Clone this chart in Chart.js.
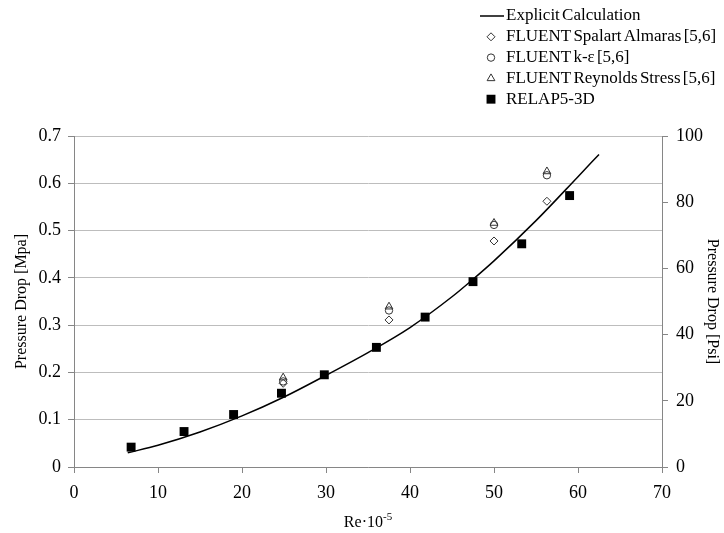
<!DOCTYPE html>
<html>
<head>
<meta charset="utf-8">
<script src="https://cdn.jsdelivr.net/npm/chart.js@4.4.1/dist/chart.umd.min.js"></script>
<style>
    html, body { margin: 0; padding: 0; background: #fff; }
    #dropChart { display: block; }
</style>
</head>
<body>
<canvas id="dropChart" width="724" height="533"></canvas>
<script>
// Explicit calculation curve
var explicitRe = [6.4, 10, 15, 20, 25, 30, 35, 40, 45, 47.5, 50, 55, 60, 62.5];
var explicitDrop = [0.030, 0.046, 0.074, 0.108, 0.148, 0.194, 0.242, 0.295, 0.360, 0.397, 0.436, 0.521, 0.614, 0.661];

// FLUENT results
var fluentRe = [24.9, 37.5, 50, 56.3];
var spalartDrop = [0.177, 0.311, 0.478, 0.562];
var kepsDrop = [0.181, 0.331, 0.512, 0.617];
var reynoldsStressDrop = [0.189, 0.339, 0.516, 0.625];

// RELAP5-3D
var relapRe = [6.8, 13.1, 19.0, 24.7, 29.8, 36.0, 41.8, 47.5, 53.3, 59.0];
var relapDrop = [0.042, 0.075, 0.111, 0.156, 0.195, 0.253, 0.317, 0.392, 0.472, 0.574];

// ticks
var reTicks = [0, 10, 20, 30, 40, 50, 60, 70];
var mpaTicks = [0, 0.1, 0.2, 0.3, 0.4, 0.5, 0.6, 0.7];
var psiTicks = [0, 20, 40, 60, 80, 100];

var serif = "'Liberation Serif', 'Times New Roman', serif";

function toPoints(xs, ys) {
    return xs.map(function (x, i) { return { x: x, y: ys[i] }; });
}

function setTicks(list) {
    return function (scale) {
        scale.ticks = list.map(function (v) { return { value: v }; });
    };
}

// legend stacked at the top right, drawn by hand
var sideLegend = {
    id: "sideLegend",
    afterDraw: function (chart) {
        var ctx = chart.ctx;
        ctx.save();
        ctx.font = "17px " + serif;
        ctx.textBaseline = "middle";
        if ("wordSpacing" in ctx) ctx.wordSpacing = "-2px";
        chart.data.datasets.forEach(function (ds, i) {
            var y = 16 + i * 20.8;
            ctx.strokeStyle = ds.borderColor;
            ctx.lineWidth = ds.borderWidth;
            if (ds.showLine) {
                ctx.beginPath();
                ctx.moveTo(480, y);
                ctx.lineTo(504, y);
                ctx.stroke();
            } else {
                ctx.fillStyle = ds.backgroundColor;
                Chart.helpers.drawPoint(ctx, {
                    pointStyle: ds.pointStyle,
                    radius: ds.pointRadius,
                    rotation: 0,
                    borderWidth: ds.borderWidth
                }, 491, y);
            }
            ctx.fillStyle = "#000";
            ctx.fillText(ds.label, 506, y);
        });
        if ("wordSpacing" in ctx) ctx.wordSpacing = "0px";

        // x title with superscript
        var base = "Re\u00b710";
        var sup = "-5";
        ctx.font = "16px " + serif;
        var w1 = ctx.measureText(base).width;
        ctx.font = "11px " + serif;
        var w2 = ctx.measureText(sup).width;
        var x0 = (chart.chartArea.left + chart.chartArea.right) / 2 - (w1 + w2) / 2;
        ctx.textBaseline = "alphabetic";
        ctx.font = "16px " + serif;
        ctx.fillText(base, x0, 527);
        ctx.font = "11px " + serif;
        ctx.fillText(sup, x0 + w1, 520);
        ctx.restore();
    }
};

var ctx = document.getElementById("dropChart").getContext("2d");
var dropChart = new Chart(ctx, {
    type: "scatter",
    data: {
        datasets: [
            {
                label: "Explicit Calculation",
                data: toPoints(explicitRe, explicitDrop),
                showLine: true,
                borderColor: "#000",
                borderWidth: 1.5,
                pointRadius: 0,
                cubicInterpolationMode: "monotone",
                yAxisID: "y"
            },
            {
                label: "FLUENT Spalart Almaras [5,6]",
                data: toPoints(fluentRe, spalartDrop),
                pointStyle: "rectRot",
                pointRadius: 4,
                borderColor: "#333",
                borderWidth: 1,
                backgroundColor: "rgba(255,255,255,0)",
                yAxisID: "y"
            },
            {
                label: "FLUENT k-\u03b5 [5,6]",
                data: toPoints(fluentRe, kepsDrop),
                pointStyle: "circle",
                pointRadius: 3.7,
                borderColor: "#333",
                borderWidth: 1,
                backgroundColor: "rgba(255,255,255,0)",
                yAxisID: "y"
            },
            {
                label: "FLUENT Reynolds Stress [5,6]",
                data: toPoints(fluentRe, reynoldsStressDrop),
                pointStyle: "triangle",
                pointRadius: 4.5,
                borderColor: "#333",
                borderWidth: 1,
                backgroundColor: "rgba(255,255,255,0)",
                yAxisID: "y"
            },
            {
                label: "RELAP5-3D",
                data: toPoints(relapRe, relapDrop),
                pointStyle: "rect",
                pointRadius: 6.3,
                borderColor: "#000",
                borderWidth: 0,
                backgroundColor: "#000",
                yAxisID: "y"
            }
        ]
    },
    options: {
        responsive: false,
        animation: false,
        layout: { padding: { top: 136, left: 0, right: 0, bottom: 0 } },
        plugins: {
            legend: { display: false },
            tooltip: { enabled: false }
        },
        scales: {
            x: {
                type: "linear",
                min: 0,
                max: 70,
                afterBuildTicks: setTicks(reTicks),
                afterFit: function (scale) { scale.height = 66; },
                grid: { drawOnChartArea: false, tickLength: 6, tickColor: "#868686" },
                border: { color: "#868686" },
                ticks: { color: "#000", padding: 9, font: { family: serif, size: 18 } }
            },
            y: {
                position: "left",
                min: 0,
                max: 0.7,
                afterBuildTicks: setTicks(mpaTicks),
                afterFit: function (scale) { scale.width = 74; },
                grid: { color: "#bdbdbd", tickLength: 6, tickColor: "#868686" },
                border: { color: "#868686" },
                ticks: {
                    color: "#000",
                    padding: 7,
                    font: { family: serif, size: 18 },
                    callback: function (value) { return value === 0 ? "0" : value.toFixed(1); }
                },
                title: {
                    display: true,
                    text: "Pressure Drop [Mpa]",
                    color: "#000",
                    padding: { top: 12, bottom: 0 },
                    font: { family: serif, size: 16 }
                }
            },
            psi: {
                position: "right",
                min: 0,
                max: 100,
                afterBuildTicks: setTicks(psiTicks),
                afterFit: function (scale) { scale.width = 62; },
                grid: { drawOnChartArea: false, tickLength: 6, tickColor: "#868686" },
                border: { color: "#868686" },
                ticks: { color: "#000", padding: 8, font: { family: serif, size: 18 } },
                title: {
                    display: true,
                    text: "Pressure Drop [Psi]",
                    color: "#000",
                    padding: { top: 2, bottom: 0 },
                    font: { family: serif, size: 16 }
                }
            }
        }
    },
    plugins: [sideLegend]
});
</script>
</body>
</html>
